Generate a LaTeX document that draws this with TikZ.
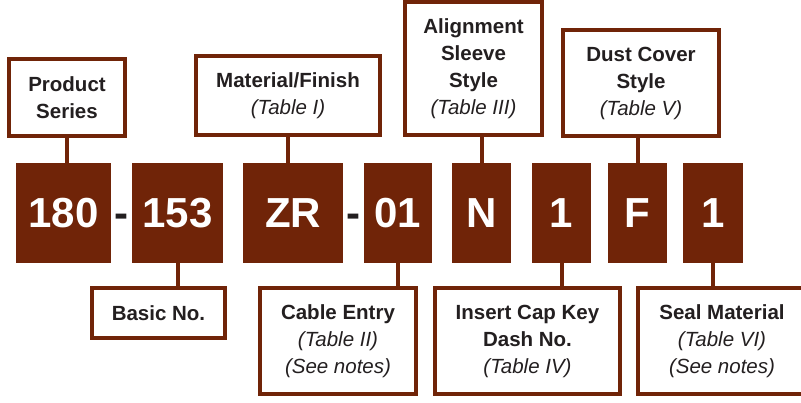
\documentclass[tikz,border=0pt]{standalone}
\usepackage{fontspec}
\setmainfont{Liberation Sans}
\usetikzlibrary{calc,positioning}
\definecolor{rust}{RGB}{112,36,8}
\definecolor{ink}{RGB}{35,31,32}

\begin{document}
\begin{tikzpicture}[x=1pt,y=-1pt,
 code/.style={fill=rust,text=white,inner sep=0pt,minimum height=100pt,
  font=\fontsize{42}{42}\selectfont\bfseries,text height=30pt,text depth=0pt},
 hyph/.style={text=ink,inner sep=0pt,
  font=\fontsize{42}{42}\selectfont\bfseries,text height=30pt,text depth=0pt},
 tag/.style={draw=rust,line width=4pt,fill=white,inner sep=0pt,align=center,text=ink,
  font=\fontsize{20.5}{27}\selectfont\bfseries},
 link/.style={draw=rust,line width=4pt}]
\useasboundingbox (0,0) rectangle (801,403);
% part number blocks
\node[code,minimum width=95pt] (c180) at (63.5,213) {180};
\node[code,minimum width=91pt] (c153) at (177.5,213) {153};
\node[code,minimum width=100pt] (cZR) at (293,213) {ZR};
\node[code,minimum width=68pt] (c01) at (398,213) {01};
\node[code,minimum width=59pt] (cN) at (481.5,213) {N};
\node[code,minimum width=59pt] (cKey) at (561.5,213) {1};
\node[code,minimum width=59pt] (cF) at (637.5,213) {F};
\node[code,minimum width=60pt] (cSeal) at (713,213) {1};
\node[hyph] (d1) at ($(c180.east)!0.5!(c153.west)$) {-};
\node[hyph] (d2) at ($(cZR.east)!0.5!(c01.west)$) {-};
% labels above
\node[tag,minimum width=116pt,minimum height=77pt] (series) at (67,97.5) {Product\\Series};
\node[tag,minimum width=184pt,minimum height=79pt] (finish) at (288,95.5) {Material/Finish\\\textmd{\itshape(Table I)}};
\node[tag,minimum width=137pt,minimum height=133pt] (sleeve) at (473.5,68.5) {Alignment\\Sleeve\\Style\\\textmd{\itshape(Table III)}};
\node[tag,minimum width=156pt,minimum height=106pt] (cover) at (641,83) {Dust Cover\\Style\\\textmd{\itshape(Table V)}};
% labels below
\node[tag,minimum width=133pt,minimum height=50pt] (basic) at (158.5,313) {Basic No.};
\node[tag,minimum width=156pt,minimum height=106pt] (entry) at (338,341) {Cable Entry\\\textmd{\itshape(Table II)}\\\textmd{\itshape(See notes)}};
\node[tag,minimum width=185pt,minimum height=106pt] (insert) at (527.5,341) {Insert Cap Key\\Dash No.\\\textmd{\itshape(Table IV)}};
\node[tag,minimum width=168pt,minimum height=106pt] (seal) at (722,341) {Seal Material\\\textmd{\itshape(Table VI)}\\\textmd{\itshape(See notes)}};
% leaders
\draw[link] (series.south) -- (series.south |- c180.north);
\draw[link] (finish.south) -- (finish.south |- cZR.north);
\draw[link] (cN.north) -- (cN.north |- sleeve.south);
\draw[link] (cF.north) -- (cF.north |- cover.south);
\draw[link] (c153.south) -- (c153.south |- basic.north);
\draw[link] (c01.south) -- (c01.south |- entry.north);
\draw[link] (cKey.south) -- (cKey.south |- insert.north);
\draw[link] (cSeal.south) -- (cSeal.south |- seal.north);
\end{tikzpicture}
\end{document}
